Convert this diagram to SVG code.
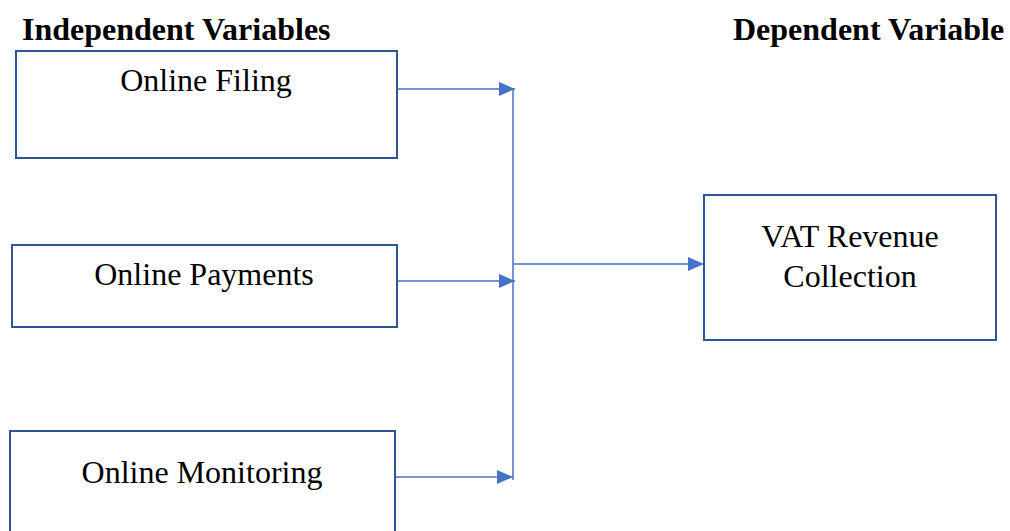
<svg xmlns="http://www.w3.org/2000/svg" width="1010" height="531" viewBox="0 0 1010 531">
<style>
.box{fill:#fff;stroke:#2F5597;stroke-width:2}
.t{font-family:"Liberation Serif",serif;font-size:32px;fill:#000;text-anchor:middle}
.h{font-family:"Liberation Serif",serif;font-size:32px;font-weight:bold;fill:#000}
.c{stroke:#4472C4;stroke-width:1.5;fill:none}
</style>
<defs>
<marker id="ah2" markerWidth="16" markerHeight="14" refX="16" refY="7" orient="auto" markerUnits="userSpaceOnUse">
<path d="M0,0 L16,7 L0,14 z" fill="#4472C4"/>
</marker>
</defs>
<rect width="1010" height="531" fill="#fff"/>
<text class="h" x="22" y="40">Independent Variables</text>
<text class="h" x="733" y="40">Dependent Variable</text>
<g id="connectors">
<line class="c" x1="513" y1="89" x2="513" y2="480"/>
<line class="c" x1="397" y1="89" x2="515" y2="89" marker-end="url(#ah2)"/>
<line class="c" x1="397" y1="281" x2="515" y2="281" marker-end="url(#ah2)"/>
<line class="c" x1="395" y1="477" x2="513" y2="477" marker-end="url(#ah2)"/>
<line class="c" x1="513" y1="264" x2="704" y2="264" marker-end="url(#ah2)"/>
</g>
<g id="online-filing">
<rect class="box" x="16" y="51" width="381" height="107"/>
<text class="t" x="206" y="91">Online Filing</text>
</g>
<g id="online-payments">
<rect class="box" x="12" y="245" width="385" height="82"/>
<text class="t" x="204" y="285">Online Payments</text>
</g>
<g id="online-monitoring">
<rect class="box" x="10" y="431" width="385" height="110"/>
<text class="t" x="202" y="483">Online Monitoring</text>
</g>
<g id="vat-revenue">
<rect class="box" x="704" y="195" width="292" height="145"/>
<text class="t" x="850" y="247">VAT Revenue</text>
<text class="t" x="850" y="287">Collection</text>
</g>
</svg>
